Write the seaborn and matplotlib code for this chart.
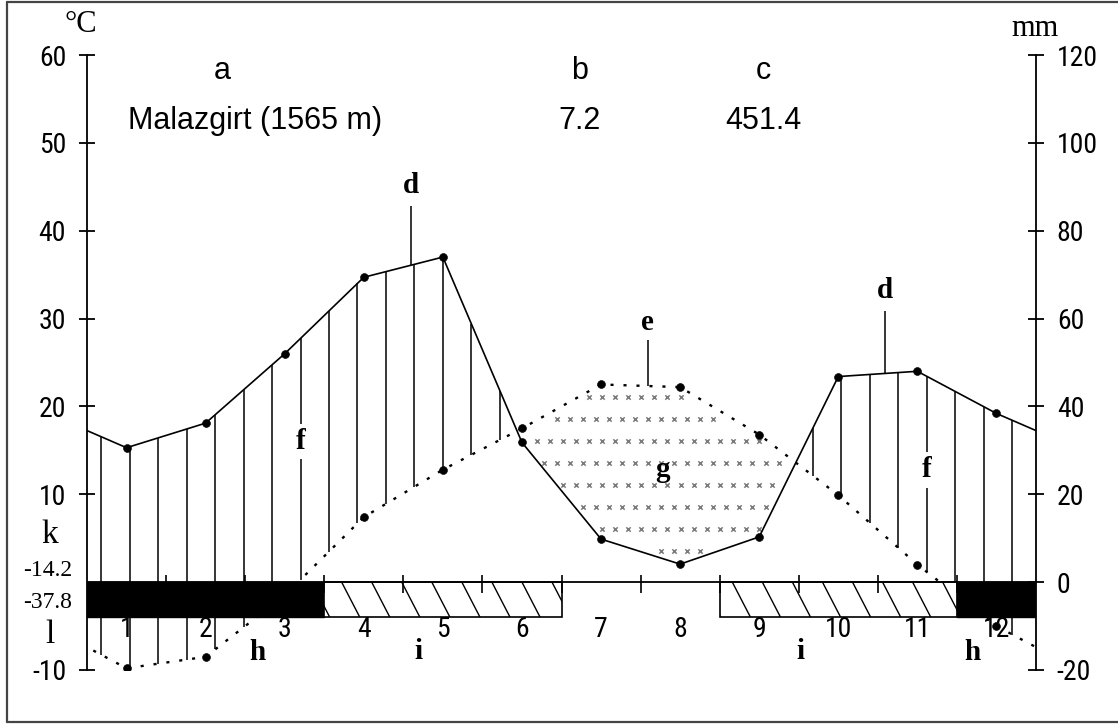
import itertools
import numpy as np
import pandas as pd
import seaborn as sns
import matplotlib
matplotlib.use("Agg")
import matplotlib.pyplot as plt
from matplotlib.lines import Line2D
from matplotlib.collections import LineCollection

# Monthly climate normals, Malazgirt station
months = np.arange(1, 13)
month_labels = [str(m) for m in months]
temp = [-9.8, -8.5, -1.5, 7.4, 12.8, 17.5, 22.5, 22.2, 16.8, 9.9, 2.0, -5.0]      # deg C
prec = [30.6, 36.2, 52.0, 69.4, 74.0, 31.8, 9.8, 4.1, 10.3, 46.8, 48.0, 38.4]     # mm
# frost class per month: sure / probable / none
frost = ["sure", "sure", "sure", "prob", "prob", "prob",
         "none", "none", "prob", "prob", "prob", "sure"]
station = "Malazgirt (1565 m)"
temp_ticks = [-10, 10, 20, 30, 40, 50, 60]
prec_ticks = [-20, 0, 20, 40, 60, 80, 100, 120]
cold_month_min = "-14.2"
absolute_min = "-37.8"

sns.set_theme(style="ticks", rc={
    "axes.edgecolor": "black", "xtick.color": "black", "ytick.color": "black",
    "text.color": "black", "axes.labelcolor": "black", "axes.unicode_minus": False,
})
plt.rcParams["font.family"] = ["Roboto Condensed", "Liberation Sans Narrow",
                               "Liberation Sans", "DejaVu Sans"]
SERIF = ["Liberation Serif", "DejaVu Serif"]
SANS = ["Liberation Sans", "DejaVu Sans"]

W, H = 1118, 726
fig = plt.figure(figsize=(W / 100, H / 100), dpi=100)
ax = fig.add_axes([87 / W, 1 - 670 / H, (1036 - 87) / W, (670 - 55) / H])
ax.set_xlim(0.5, 12.5)
ax.set_ylim(-10, 60)
ax2 = ax.twinx()
ax2.set_ylim(-20, 120)

for a in (ax, ax2):
    a.spines["top"].set_visible(False)
    a.spines["bottom"].set_visible(False)
    for s in ("left", "right"):
        a.spines[s].set_linewidth(1.3)
ax.spines["right"].set_visible(False)
ax2.spines["left"].set_visible(False)
ax.set_xticks([])
ax.set_yticks(temp_ticks)
ax.tick_params(axis="y", direction="inout", length=12, width=1.3, pad=9, labelsize=20)
ax2.set_yticks(prec_ticks)
ax2.tick_params(axis="y", direction="inout", length=12, width=1.3, pad=9, labelsize=20)

# curves wrapped around the year so they reach the plot edges
xw = np.r_[0, months, 13]
tw = np.r_[temp[-1], temp, temp[0]]
pw = np.r_[prec[-1], prec, prec[0]]
df_t = pd.DataFrame({"month": xw, "value": tw})
df_p = pd.DataFrame({"month": xw, "value": pw})

# humid period: vertical hatching between the curves
xh = np.arange(0.68, 12.5, 0.36)
th = np.interp(xh, xw, tw)
ph = np.interp(xh, xw, pw) / 2
wet = ph > th
ax.vlines(xh[wet], th[wet], ph[wet], color="black", lw=1.1, zorder=2)

# dry period: dotted fill between the curves
gx, gy = np.meshgrid(np.arange(0.5, 12.5, 0.165), np.arange(3.6, 30, 2.5))
gx = gx + (np.round((gy - 3.6) / 2.5) % 2) * 0.08
tg = np.interp(gx, xw, tw)
pg = np.interp(gx, xw, pw) / 2
dry = (tg - gy > 0.5) & (gy - pg > 0.5)
ax.scatter(gx[dry], gy[dry], marker="x", s=10, linewidths=1.1, color="#7a7a7a", zorder=2)

sns.lineplot(data=df_t, x="month", y="value", ax=ax, color="black", lw=1.7,
             linestyle=(0, (1.3, 4.2)), zorder=2.5)
sns.scatterplot(x=months, y=temp, ax=ax, color="black", s=32, edgecolor="black", zorder=5)
sns.lineplot(data=df_p, x="month", y="value", ax=ax2, color="black", lw=1.2, zorder=3)
sns.scatterplot(x=months, y=prec, ax=ax2, color="black", s=32, edgecolor="black", zorder=4)
for a in (ax, ax2):
    a.set_xlabel("")
    a.set_ylabel("")

# frost bar below the zero line, one block per run of equal class
bar_depth = -4.0
x0 = np.arange(0.3, 12.6, 0.38)
segs = [[(x, 0), (x + 0.23, bar_depth)] for x in x0]
start = 0
for cls, grp in itertools.groupby(frost):
    n = len(list(grp))
    centre = months[start] + (n - 1) / 2
    start += n
    if cls == "sure":
        ax.bar(centre, bar_depth, width=n, bottom=0, color="black", edgecolor="black",
               lw=1.0, zorder=4)
    elif cls == "prob":
        blk = ax.bar(centre, bar_depth, width=n, bottom=0, color="white",
                     edgecolor="black", lw=1.2, zorder=4)
        lc = LineCollection(segs, colors="black", linewidths=1.0, zorder=4.5)
        ax.add_collection(lc)
        lc.set_clip_path(blk.patches[0])

ax.axhline(0, color="black", lw=1.3, zorder=4.6)
ax.vlines(np.arange(1.5, 12, 1), -1.2, 0.8, color="black", lw=1.2, zorder=4.6)
for m, lab in zip(months, month_labels):
    ax.text(m, -5.4, lab, ha="center", va="center", fontsize=20, zorder=6)

# header
ax.text(2.21, 58.2, "a", ha="center", va="center", fontsize=22, family=SANS)
ax.text(2.62, 52.5, station, ha="center", va="center", fontsize=22, family=SANS)
ax.text(6.73, 58.2, "b", ha="center", va="center", fontsize=22, family=SANS)
ax.text(6.73, 52.5, f"{np.mean(temp):.1f}", ha="center", va="center", fontsize=22, family=SANS)
ax.text(9.05, 58.2, "c", ha="center", va="center", fontsize=22, family=SANS)
ax.text(9.05, 52.5, f"{np.sum(prec):.1f}", ha="center", va="center", fontsize=22, family=SANS)

# key letters
bold = dict(ha="center", va="center", fontsize=21, family=SERIF, fontweight="bold", zorder=6)
ax.text(4.6, 45.2, "d", **bold)
ax.vlines(4.6, np.interp(4.6, xw, pw) / 2, 42.8, color="black", lw=1.1)
ax.text(10.59, 33.2, "d", **bold)
ax.vlines(10.59, np.interp(10.59, xw, pw) / 2, 30.9, color="black", lw=1.1)
ax.text(7.59, 29.6, "e", **bold)
ax.vlines(7.59, np.interp(7.59, xw, tw), 27.6, color="black", lw=1.1)
wb = dict(boxstyle="square,pad=0.15", fc="white", ec="none")
ax.text(3.2, 16.0, "f", bbox=wb, **bold)
ax.text(11.12, 12.8, "f", bbox=wb, **bold)
ax.text(7.78, 12.8, "g", **bold)
ax.text(2.66, -8.0, "h", **bold)
ax.text(11.69, -8.0, "h", **bold)
ax.text(4.69, -7.9, "i", **bold)
ax.text(9.52, -7.9, "i", **bold)

fig.text(81 / W, 1 - 24 / H, "\u00b0C", ha="center", va="center", fontsize=22, family=SERIF)
fig.text(1035 / W, 1 - 28 / H, "mm", ha="center", va="center", fontsize=22, family=SERIF)
fig.text(50 / W, 1 - 535 / H, "k", ha="center", va="center", fontsize=24, family=SERIF)
fig.text(72 / W, 1 - 570 / H, cold_month_min, ha="right", va="center", fontsize=17, family=SERIF)
fig.text(72 / W, 1 - 602 / H, absolute_min, ha="right", va="center", fontsize=17, family=SERIF)
fig.text(50 / W, 1 - 635 / H, "l", ha="center", va="center", fontsize=24, family=SERIF)

# outer frame
for xs, ys in [((7, 1118), (2, 2)), ((7, 7), (2, 722)), ((7, 1118), (722, 722))]:
    fig.add_artist(Line2D([x / W for x in xs], [1 - y / H for y in ys], color="#444444", lw=1.6))

fig.savefig("out.png", dpi=100)
